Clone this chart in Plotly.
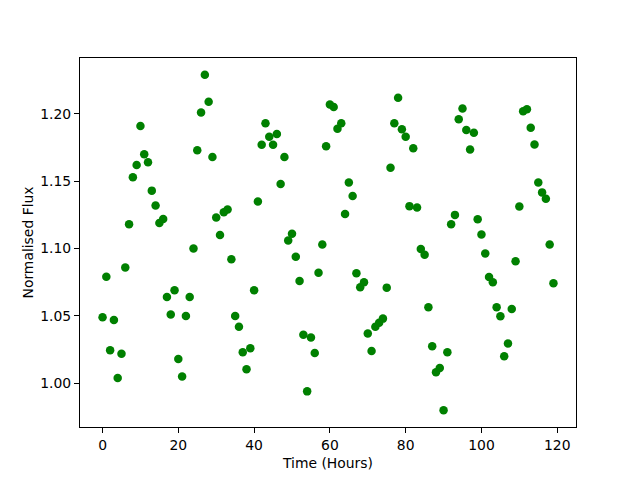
import plotly.graph_objects as go

hours = list(range(120))
flux = [
    1.049, 1.079, 1.0245, 1.047, 1.004, 1.022, 1.086, 1.118, 1.153, 1.162,
    1.191, 1.170, 1.164, 1.143, 1.132, 1.119, 1.122, 1.064, 1.051, 1.069,
    1.018, 1.005, 1.050, 1.064, 1.100, 1.173, 1.201, 1.229, 1.209, 1.168,
    1.123, 1.110, 1.127, 1.129, 1.092, 1.050, 1.042, 1.023, 1.0105, 1.026,
    1.069, 1.135, 1.177, 1.193, 1.183, 1.177, 1.185, 1.148, 1.168, 1.106,
    1.111, 1.094, 1.076, 1.036, 0.994, 1.034, 1.0225, 1.082, 1.103, 1.176,
    1.207, 1.205, 1.189, 1.193, 1.1256, 1.149, 1.139, 1.0816, 1.0712, 1.075,
    1.037, 1.024, 1.042, 1.045, 1.048, 1.071, 1.160, 1.193, 1.212, 1.1886,
    1.183, 1.1315, 1.1745, 1.1305, 1.0996, 1.0954, 1.0564, 1.0275, 1.0082, 1.0114,
    0.980, 1.023, 1.118, 1.125, 1.196, 1.204, 1.188, 1.1735, 1.186, 1.1217,
    1.1105, 1.0964, 1.0789, 1.075, 1.0564, 1.0497, 1.020, 1.0296, 1.0552, 1.0905,
    1.1313, 1.202, 1.2034, 1.1896, 1.1772, 1.149, 1.1417, 1.137, 1.103, 1.0742,
]

x_ticks = [0, 20, 40, 60, 80, 100, 120]
y_ticks = [1.00, 1.05, 1.10, 1.15, 1.20]

xmin, xmax = min(hours), max(hours)
ymin, ymax = min(flux), max(flux)
xpad = 0.05 * (xmax - xmin)
ypad = 0.05 * (ymax - ymin)

fig = go.Figure(
    go.Scatter(
        x=hours, y=flux, mode="markers",
        marker=dict(color="#008000", size=8.5, line=dict(width=0)),
    )
)

axis_common = dict(
    showline=True, mirror=True, linecolor="black", linewidth=1,
    ticks="outside", ticklen=5, tickwidth=1, tickcolor="black",
    showgrid=False, zeroline=False,
    tickfont=dict(family="DejaVu Sans", size=13.9, color="black"),
)

# the page body adds an 8px offset, so margins are shifted to compensate
fig.update_layout(
    width=640, height=480,
    margin=dict(l=72, r=72, t=49.6, b=60.8),
    paper_bgcolor="white", plot_bgcolor="white",
    showlegend=False,
    font=dict(family="DejaVu Sans", color="black"),
    xaxis=dict(
        range=[xmin - xpad, xmax + xpad],
        tickvals=x_ticks, ticktext=[str(v) for v in x_ticks],
        title=dict(text="Time (Hours)", font=dict(size=13.9), standoff=6),
        automargin=False,
        **axis_common,
    ),
    yaxis=dict(
        range=[ymin - ypad, ymax + ypad],
        tickvals=y_ticks, ticktext=[f"{v:.2f}" for v in y_ticks],
        title=dict(text="Normalised Flux", font=dict(size=13.9), standoff=3),
        automargin=False,
        **axis_common,
    ),
)

fig.write_html("out.html")
